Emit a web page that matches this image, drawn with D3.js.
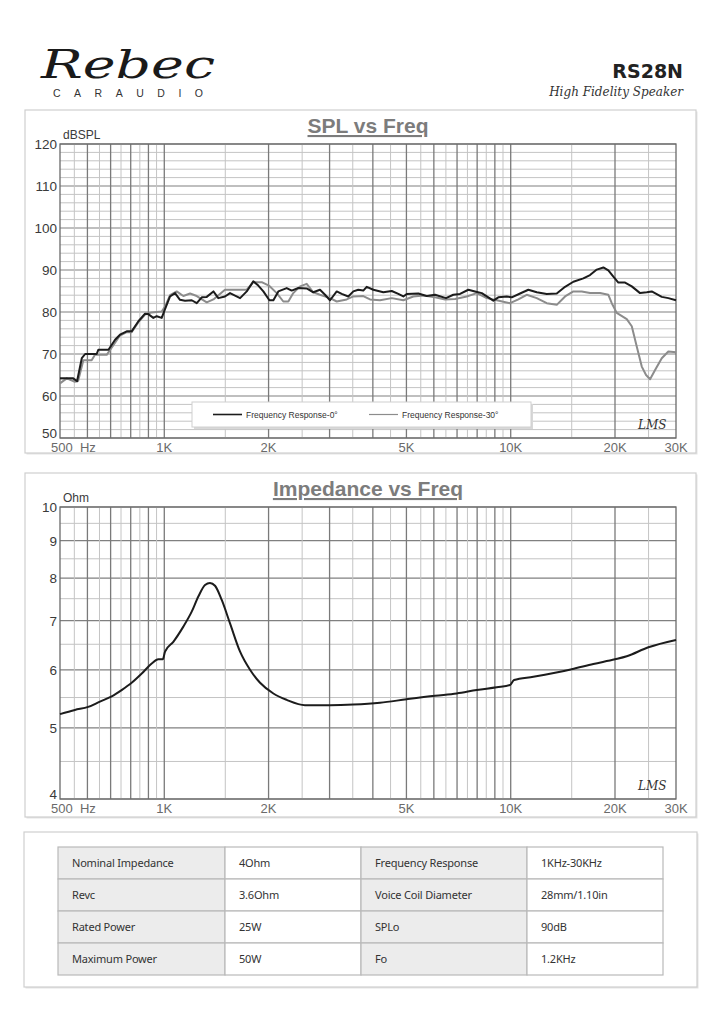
<!DOCTYPE html>
<html>
<head>
<meta charset="utf-8">
<script src="https://cdn.jsdelivr.net/npm/d3@7"></script>
<style>
  body { margin: 0; background: #fff; }
  svg { display: block; }
</style>
</head>
<body>
<div id="sheet"></div>
<script>
// SPL 0 deg (black)
var spl0Freq = [500, 546, 560, 578, 591, 638, 645, 690, 721, 745, 779, 805, 842, 880, 899, 930, 951, 983,
  1005, 1039, 1074, 1110, 1148, 1200, 1241, 1283, 1326, 1386, 1432, 1497, 1548, 1655, 1730, 1807, 1868, 1932,
  2011, 2065, 2134, 2256, 2332, 2438, 2577, 2692, 2815, 2911, 3009, 3146, 3252, 3398, 3513, 3631, 3754, 3840,
  4013, 4288, 4535, 4738, 4899, 5010, 5411, 5723, 6047, 6504, 6829, 7139, 7546, 7888, 8250, 8618, 8909, 9210,
  9739, 10069, 10641, 11245, 11890, 12706, 13580, 14353, 15165, 16208, 16941, 17720, 18509, 19136, 19784,
  20452, 21386, 22360, 23626, 24700, 25530, 27290, 28510, 30000];
var spl0Db = [64.2, 64.2, 63.5, 69.0, 70.0, 70.0, 71.0, 71.0, 73.4, 74.6, 75.4, 75.4, 77.8, 79.6, 79.5, 78.6, 79.0, 78.6,
  80.7, 83.7, 84.5, 82.9, 82.7, 82.8, 82.1, 83.5, 83.6, 84.9, 83.3, 83.7, 84.5, 83.3, 84.9, 87.3, 86.3, 84.9,
  82.8, 82.8, 84.9, 85.7, 85.1, 85.7, 85.6, 84.7, 85.3, 84.1, 82.8, 84.9, 84.3, 83.7, 84.9, 85.3, 85.1, 86.0,
  85.3, 84.7, 85.0, 84.3, 83.7, 84.3, 84.4, 83.8, 84.1, 83.3, 84.1, 84.3, 85.3, 84.9, 84.5, 83.5, 82.7, 83.5,
  83.7, 83.5, 84.4, 85.3, 84.7, 84.3, 84.4, 86.0, 87.2, 88.0, 88.8, 90.1, 90.6, 89.9, 88.4,
  87.0, 87.0, 86.1, 84.5, 84.7, 84.9, 83.6, 83.3, 82.8];

// SPL 30 deg (grey)
var spl30Freq = [500, 523, 552, 564, 584, 617, 631, 682, 721, 745, 779, 805, 842, 880, 920, 983,
  1005, 1039, 1086, 1135, 1187, 1241, 1326, 1386, 1497, 1619, 1730, 1807, 1911, 2011, 2112, 2206, 2281, 2357,
  2465, 2577, 2692, 2815, 3009, 3146, 3362, 3513, 3754, 3925, 4195, 4535, 4899, 5234, 5595, 6047, 6464, 6907,
  7467, 7980, 8528, 9114, 9957, 10520, 11124, 11890, 12706, 13580, 14353, 15165, 16033, 16941, 18110, 19136,
  19575, 20233, 21627, 22360, 23110, 23895, 24585, 25250, 26107, 27290, 28510, 30000];
var spl30Db = [63.0, 64.2, 63.4, 63.6, 68.5, 68.5, 69.8, 69.8, 72.7, 74.4, 75.2, 75.2, 77.6, 79.4, 79.9, 80.1,
  81.3, 84.0, 84.9, 83.8, 84.4, 83.8, 82.3, 83.0, 85.3, 85.3, 85.3, 87.1, 87.1, 86.2, 84.5, 82.5, 82.5, 84.5,
  86.1, 86.7, 84.7, 84.1, 83.3, 82.5, 83.0, 83.7, 83.8, 83.0, 82.8, 83.3, 82.8, 83.7, 83.9, 83.5, 83.0, 83.1,
  83.7, 84.5, 83.3, 82.8, 82.1, 83.0, 84.1, 83.3, 82.1, 81.7, 83.7, 84.9, 84.9, 84.5, 84.5, 84.1,
  82.1, 79.8, 78.3, 76.6, 71.8, 67.0, 65.0, 64.0, 66.2, 69.0, 70.6, 70.4];

// impedance
var impFreq = [500, 552, 603, 652, 705, 753, 805, 861, 920, 961, 990, 1005, 1062, 1135, 1200, 1254, 1311, 1355,
  1401, 1465, 1548, 1655, 1768, 1890, 2065, 2256, 2548, 3009, 3513, 4195, 5010, 6047, 6985, 7980, 9114, 9957,
  10222, 11623, 15000, 17320, 20000, 21627, 24970, 30000];
var impOhm = [5.22, 5.29, 5.34, 5.43, 5.52, 5.63, 5.76, 5.93, 6.12, 6.20, 6.20, 6.35, 6.55, 6.87, 7.20, 7.55, 7.83, 7.88,
  7.81, 7.47, 6.94, 6.35, 6.00, 5.76, 5.57, 5.46, 5.37, 5.37, 5.38, 5.41, 5.47, 5.53, 5.57, 5.63, 5.68, 5.72,
  5.81, 5.87, 6.01, 6.11, 6.20, 6.26, 6.44, 6.59];

var freqTicks = [500, 1000, 2000, 5000, 10000, 20000, 30000];
var freqLabels = ["500  Hz", "1K", "2K", "5K", "10K", "20K", "30K"];
var splTicks = [50, 60, 70, 80, 90, 100, 110, 120];
var ohmTicks = [4, 5, 6, 7, 8, 9, 10];
var legendLabels = ["Frequency Response-0\u00b0", "Frequency Response-30\u00b0"];

var specNames1 = ["Nominal Impedance", "Revc", "Rated Power", "Maximum Power"];
var specValues1 = ["4Ohm", "3.6Ohm", "25W", "50W"];
var specNames2 = ["Frequency Response", "Voice Coil Diameter", "SPLo", "Fo"];
var specValues2 = ["1KHz-30KHz", "28mm/1.10in", "90dB", "1.2KHz"];

var W = 721, H = 1024;
var svg = d3.select("#sheet").append("svg").attr("width", W).attr("height", H);

// header
svg.append("text").attr("x", 41).attr("y", 78)
  .attr("font-family", "DejaVu Serif").attr("font-style", "italic").attr("font-size", 40)
  .attr("textLength", 174).attr("lengthAdjust", "spacingAndGlyphs")
  .attr("fill", "#1a1a1a").text("Rebec");
svg.append("text").attr("x", 53).attr("y", 97)
  .attr("font-family", "Liberation Sans").attr("font-size", 10.5)
  .attr("textLength", 150).attr("fill", "#333").text("CARAUDIO");
svg.append("text").attr("x", 683).attr("y", 78).attr("text-anchor", "end")
  .attr("font-family", "DejaVu Sans").attr("font-weight", "bold").attr("font-size", 19)
  .attr("fill", "#222").text("RS28N");
svg.append("text").attr("x", 683).attr("y", 96).attr("text-anchor", "end")
  .attr("font-family", "DejaVu Serif").attr("font-style", "italic").attr("font-size", 12)
  .attr("fill", "#333").text("High Fidelity Speaker");

function panel(x0, y0, x1, y1) {
  svg.append("rect").attr("x", x0 + 1.5).attr("y", y0 + 1.5).attr("width", x1 - x0).attr("height", y1 - y0)
    .attr("fill", "#e4e4e4");
  svg.append("rect").attr("x", x0).attr("y", y0).attr("width", x1 - x0).attr("height", y1 - y0)
    .attr("fill", "#fff").attr("stroke", "#cfcfcf").attr("stroke-width", 1.2);
}

// grid frequencies: 50 Hz steps to 1K, 500 Hz to 10K, 5K to 30K
var gridFreq = [];
for (var f = 550; f < 1000; f += 50) gridFreq.push(f);
for (var f = 1000; f < 10000; f += 500) gridFreq.push(f);
for (var f = 10000; f < 30000; f += 5000) gridFreq.push(f);
function isMajor(f) {
  if (f < 1000) return f % 100 === 0;
  if (f < 10000) return f % 1000 === 0;
  return f % 10000 === 0;
}

var x = d3.scaleLog().domain([500, 30000]).range([60, 676]);

function chart(opt) {
  var g = svg.append("g");
  var y = opt.y;
  var top = y.range()[1], bot = y.range()[0];

  // horizontal grid
  g.selectAll(".hmin").data(opt.minorY).enter().append("line")
    .attr("x1", 60).attr("x2", 676).attr("y1", d => y(d)).attr("y2", d => y(d))
    .attr("stroke", "#c4c4c4").attr("stroke-width", 1);
  g.selectAll(".hmaj").data(opt.ticks).enter().append("line")
    .attr("x1", 60).attr("x2", 676).attr("y1", d => y(d)).attr("y2", d => y(d))
    .attr("stroke", "#808080").attr("stroke-width", 1.2);

  // vertical grid
  g.selectAll(".v").data(gridFreq).enter().append("line")
    .attr("x1", d => x(d)).attr("x2", d => x(d)).attr("y1", top).attr("y2", bot)
    .attr("stroke", d => isMajor(d) ? "#7a7a7a" : "#c4c4c4")
    .attr("stroke-width", d => isMajor(d) ? 1.3 : 1);

  g.append("rect").attr("x", 60).attr("y", top).attr("width", 616).attr("height", bot - top)
    .attr("fill", "none").attr("stroke", "#6a6a6a").attr("stroke-width", 1.3);

  // y tick labels (lowest one sits a little higher, clear of the first x label)
  g.selectAll(".yl").data(opt.ticks).enter().append("text")
    .attr("x", 57).attr("y", (d, i) => y(d) + (i === 0 ? 0 : 5)).attr("text-anchor", "end")
    .attr("font-family", "Liberation Sans").attr("font-size", 13.5).attr("fill", "#3a3a3a")
    .text(d => d);

  // x tick labels
  g.selectAll(".xl").data(freqTicks).enter().append("text")
    .attr("x", (d, i) => i === 0 ? 51 : x(d)).attr("y", bot + 14)
    .attr("text-anchor", (d, i) => i === 0 ? "start" : "middle")
    .attr("font-family", "Liberation Sans").attr("font-size", 13).attr("fill", "#6a6a6a")
    .attr("xml:space", "preserve")
    .text((d, i) => freqLabels[i]);

  g.append("text").attr("x", 63).attr("y", top - 5)
    .attr("font-family", "Liberation Sans").attr("font-size", 12).attr("fill", "#3a3a3a")
    .text(opt.unit);

  g.append("text").attr("x", 368).attr("y", top - 11).attr("text-anchor", "middle")
    .attr("font-family", "Liberation Sans").attr("font-weight", "bold").attr("font-size", 21)
    .attr("fill", "#7c7c7c").attr("text-decoration", "underline").text(opt.title);

  g.append("text").attr("x", 638).attr("y", bot - 9)
    .attr("font-family", "DejaVu Serif").attr("font-style", "italic").attr("font-size", 12)
    .attr("fill", "#333").text("LMS");
  return g;
}

// SPL chart
panel(25, 110, 696, 453);
var ySpl = d3.scaleLinear().domain([50, 120]).range([438, 144]);
var splMinor = d3.range(50, 121, 2).filter(d => d % 10 !== 0);
var gSpl = chart({ y: ySpl, ticks: splTicks, minorY: splMinor, unit: "dBSPL", title: "SPL vs Freq" });

var splLine = d3.line().x(d => x(d[0])).y(d => ySpl(d[1]));
gSpl.append("path").datum(d3.zip(spl30Freq, spl30Db)).attr("d", splLine)
  .attr("fill", "none").attr("stroke", "#8c8c8c").attr("stroke-width", 2).attr("stroke-linejoin", "round");
gSpl.append("path").datum(d3.zip(spl0Freq, spl0Db)).attr("d", splLine)
  .attr("fill", "none").attr("stroke", "#1c1c1c").attr("stroke-width", 2).attr("stroke-linejoin", "round");

// legend
var lg = gSpl.append("g").attr("transform", "translate(192,402)");
lg.append("rect").attr("x", 2).attr("y", 2).attr("width", 339).attr("height", 25).attr("fill", "#d8d8d8");
lg.append("rect").attr("width", 339).attr("height", 25).attr("fill", "#fff").attr("stroke", "#d0d0d0");
var legendColors = ["#1c1c1c", "#8c8c8c"];
legendLabels.forEach(function (t, i) {
  var lx = 21 + i * 156;
  lg.append("line").attr("x1", lx).attr("x2", lx + 29).attr("y1", 12.5).attr("y2", 12.5)
    .attr("stroke", legendColors[i]).attr("stroke-width", i === 0 ? 1.6 : 1.2);
  lg.append("text").attr("x", lx + 33).attr("y", 15.5)
    .attr("font-family", "Liberation Sans Narrow, Liberation Sans").attr("font-size", 8.5)
    .attr("fill", "#333").text(t);
});

// impedance chart
panel(25, 473, 696, 817);
var yImp = d3.scaleLog().domain([4, 10]).range([799, 507]);
var gImp = chart({ y: yImp, ticks: ohmTicks, minorY: [4.5, 5.5, 6.5, 7.5, 8.5, 9.5], unit: "Ohm", title: "Impedance vs Freq" });
var impLine = d3.line().x(d => x(d[0])).y(d => yImp(d[1])).curve(d3.curveMonotoneX);
gImp.append("path").datum(d3.zip(impFreq, impOhm)).attr("d", impLine)
  .attr("fill", "none").attr("stroke", "#1c1c1c").attr("stroke-width", 2);

// spec table
panel(24, 832, 697, 987);
var colX = [58, 225, 361, 527, 663];
var rowY = d3.scaleBand().domain(d3.range(4)).range([847, 975]);
var columns = [specNames1, specValues1, specNames2, specValues2];
var tg = svg.append("g");
columns.forEach(function (col, c) {
  tg.selectAll(".c" + c).data(col).enter().append("rect")
    .attr("x", colX[c]).attr("y", (d, r) => rowY(r))
    .attr("width", colX[c + 1] - colX[c]).attr("height", rowY.bandwidth())
    .attr("fill", c % 2 === 0 ? "#ececec" : "#fff")
    .attr("stroke", "#b9b9b9").attr("stroke-width", 1.2);
  tg.selectAll(".t" + c).data(col).enter().append("text")
    .attr("x", colX[c] + 14).attr("y", (d, r) => rowY(r) + rowY.bandwidth() / 2 + 4)
    .attr("font-family", "Noto Sans").attr("font-size", 11).attr("fill", "#333")
    .attr("letter-spacing", -0.2)
    .text(d => d);
});
</script>
</body>
</html>
